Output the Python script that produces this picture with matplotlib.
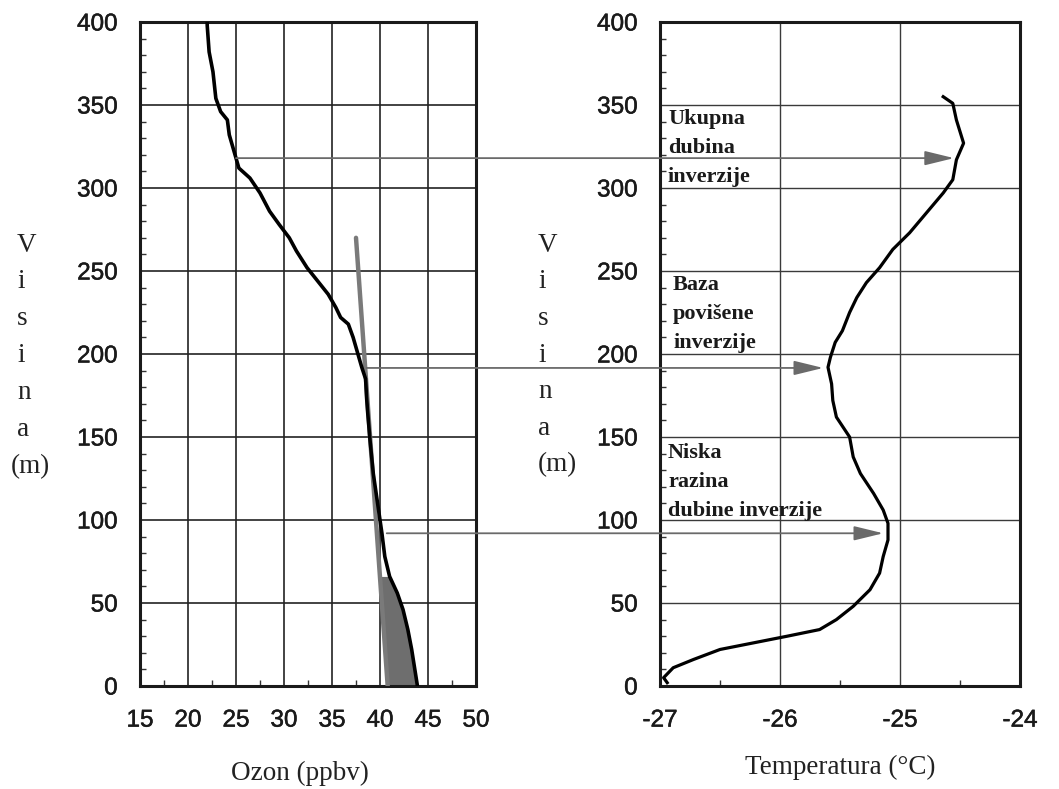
import numpy as np
import matplotlib
matplotlib.use('Agg')
import matplotlib.pyplot as plt
import matplotlib.patheffects as pe
from matplotlib.patches import ConnectionPatch
from matplotlib.ticker import MultipleLocator

# ---------------- data ----------------
ozone_height = [0, 11, 22, 34, 46, 56, 66, 78, 92, 108, 128, 148, 166, 174, 185,
                192, 202, 210, 218, 222, 228, 236, 244, 252, 262, 270, 278, 286,
                297, 306, 312, 322, 332, 341, 346, 354, 370, 382, 398, 400]
ozone_ppbv = [43.9, 43.6, 43.3, 42.9, 42.4, 41.8, 41.0, 40.5, 40.2, 39.8, 39.3,
              38.96, 38.7, 38.6, 38.5, 38.1, 37.6, 37.2, 36.7, 35.9, 35.4, 34.6,
              33.5, 32.4, 31.3, 30.55, 29.5, 28.5, 27.5, 26.45, 25.3, 24.8, 24.3,
              24.1, 23.4, 22.9, 22.6, 22.2, 22.0, 22.0]

temp_height = [2, 5, 11, 16, 22, 26, 30, 34, 40, 48, 58, 68, 78, 88, 98, 106, 116,
               128, 138, 150, 162, 172, 182, 192, 198, 207, 214, 225, 234, 243,
               252, 263, 273, 285, 297, 305, 317, 327, 341, 351, 355]
temp_c = [-26.94, -26.97, -26.89, -26.72, -26.50, -26.22, -25.94, -25.67, -25.53,
          -25.39, -25.25, -25.17, -25.14, -25.10, -25.10, -25.14, -25.22, -25.33,
          -25.39, -25.42, -25.53, -25.56, -25.57, -25.60, -25.58, -25.54, -25.48,
          -25.42, -25.36, -25.28, -25.17, -25.06, -24.92, -24.78, -24.64, -24.56,
          -24.53, -24.47, -24.53, -24.56, -24.64]

fit_height = [0, 270]
fit_ppbv = [40.8, 37.5]
shade_top = 70

arrow_height = [318, 191.6, 92]
arrow_ozone = [25.0, 38.6, 40.7]
arrow_temp = [-24.55, -25.64, -25.14]

ozone_ticks = [15, 20, 25, 30, 35, 40, 45, 50]
temp_ticks = [-27, -26, -25, -24]
height_ticks = [0, 50, 100, 150, 200, 250, 300, 350, 400]

notes = [["Ukupna", "dubina", "inverzije"],
         ["Baza", "povišene", "inverzije"],
         ["Niska", "razina", "dubine inverzije"]]
ylabel_chars = ["V", "i", "s", "i", "n", "a", "(m)"]
xlabels = ["Ozon (ppbv)", "Temperatura (°C)"]

# ---------------- figure ----------------
W, H = 1059, 789
fig = plt.figure(figsize=(W / 100, H / 100), dpi=100)


def fx(px):
    return px / W


def fy(py):
    return 1 - py / H


ax1 = fig.add_axes([fx(140), fy(686), fx(476) - fx(140), fy(22) - fy(686)])
ax2 = fig.add_axes([fx(660), fy(686), fx(1020) - fx(660), fy(22) - fy(686)])

tick_font = dict(family=['Liberation Sans', 'DejaVu Sans'], size=17.5)
tick_fx = [pe.withStroke(linewidth=0.35, foreground='#1a1a1a')]

for ax, xt, minor_x, gcol, glw in [(ax1, ozone_ticks, 2.5, '#222222', 1.2),
                                   (ax2, temp_ticks, 0.5, '#3a3a3a', 1.0)]:
    ax.set_ylim(0, 400)
    ax.set_xlim(xt[0], xt[-1])
    ax.set_xticks(xt)
    ax.set_yticks(height_ticks)
    ax.set_xticklabels([str(t) for t in xt], fontdict=tick_font, color='#1a1a1a')
    ax.set_yticklabels([str(t) for t in height_ticks], fontdict=tick_font, color='#1a1a1a')
    for lab in ax.get_xticklabels() + ax.get_yticklabels():
        lab.set_path_effects(tick_fx)
    ax.yaxis.set_minor_locator(MultipleLocator(10))
    ax.xaxis.set_minor_locator(MultipleLocator(minor_x))
    ax.tick_params(which='major', length=0)
    ax.tick_params(axis='x', which='major', pad=17)
    ax.tick_params(axis='y', which='major', pad=16)
    ax.tick_params(which='minor', direction='in', length=4, width=1.0, color='#333333',
                   top=False, right=False)
    ax.grid(True, which='major', color=gcol, lw=glw, zorder=1)
    ax.set_axisbelow(True)
    for s in ax.spines.values():
        s.set_linewidth(2.2)
        s.set_color('#1a1a1a')

# ozone panel
h_arr = np.array(ozone_height, dtype=float)
o_arr = np.array(ozone_ppbv, dtype=float)
mask = h_arr <= shade_top
h_sh = h_arr[mask]
o_sh = o_arr[mask]
line_sh = np.interp(h_sh, fit_height, fit_ppbv)
ax1.fill_betweenx(h_sh, line_sh, o_sh, where=o_sh >= line_sh, color='#6e6e6e',
                  lw=0, zorder=2)
ax1.plot(fit_ppbv, fit_height, color='#7a7a7a', lw=3.2, solid_capstyle='round', zorder=3)
ax1.plot(ozone_ppbv, ozone_height, color='black', lw=2.6, zorder=4)

# temperature panel
ax2.plot(temp_c, temp_height, color='black', lw=2.3, zorder=4)

# connecting arrows
for h, o, t in zip(arrow_height, arrow_ozone, arrow_temp):
    con = ConnectionPatch(xyA=(o, h), coordsA=ax1.transData,
                          xyB=(t, h), coordsB=ax2.transData,
                          arrowstyle='-|>,head_length=0.9,head_width=0.22',
                          mutation_scale=20, color='#6a6a6a', lw=1.3,
                          shrinkA=0, shrinkB=0, zorder=5)
    fig.add_artist(con)

serif = ['Liberation Serif', 'DejaVu Serif']

# vertical y labels
for i, ch in enumerate(ylabel_chars):
    y = 245 + 37 * i
    fig.text(fx(17 if ch != "(m)" else 11), fy(y), ch, family=serif, size=19.5,
             color='#222222', ha='left', va='center')
    fig.text(fx(538), fy(y - (2 if i >= 4 else 0)), ch, family=serif, size=19.5,
             color='#222222', ha='left', va='center')

# x labels
fig.text(fx(300), fy(773), xlabels[0], family=serif, size=19.5, color='#222222',
         ha='center', va='center')
fig.text(fx(840), fy(767), xlabels[1], family=serif, size=19.5, color='#222222',
         ha='center', va='center')

# annotations
note_pos = [(668, 119), (673, 285), (668, 453)]
for (x0, y0), lines in zip(note_pos, notes):
    for j, ln in enumerate(lines):
        fig.text(fx(x0), fy(y0 + 29 * j), ln, family=serif, size=16, weight='bold',
                 color='#1a1a1a', ha='left', va='center', zorder=6)

fig.savefig('out.png', dpi=100)
